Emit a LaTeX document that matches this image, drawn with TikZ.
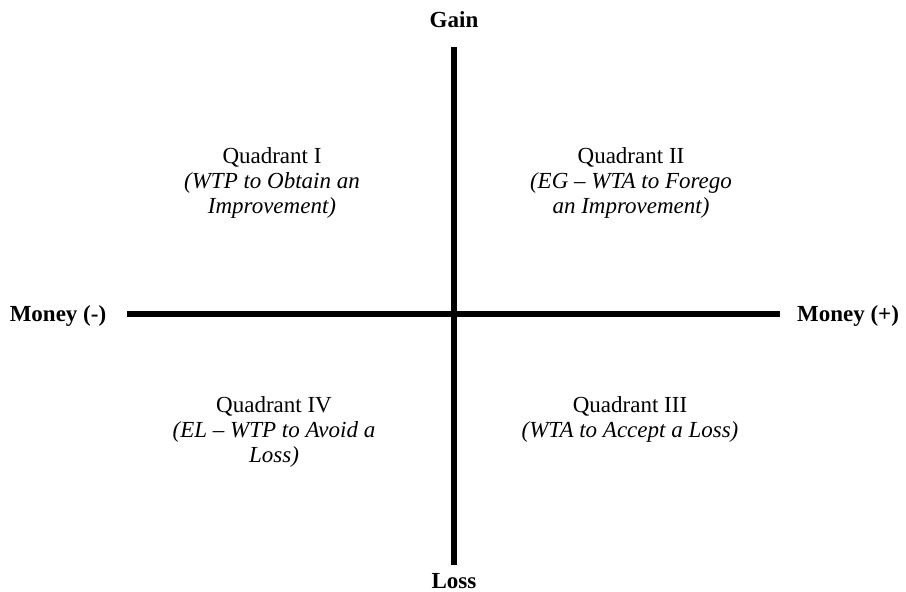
\documentclass[tikz,border=0pt]{standalone}
\usepackage{fontspec}
\setmainfont{Liberation Serif}
\usepackage{tikz}

\begin{document}
\begin{tikzpicture}[x=1pt, y=-1pt,
  axis/.style={line width=5.5pt},
  axlabel/.style={font=\fontsize{23}{25}\selectfont\bfseries, inner sep=0pt, anchor=base},
  qtext/.style={font=\fontsize{23}{25}\selectfont, align=center, inner sep=0pt, anchor=base}]

\useasboundingbox (0,0) rectangle (906,592);

\coordinate (top) at (454,47);
\coordinate (bottom) at (454,565);
\coordinate (left) at (127,314);
\coordinate (right) at (780,314);

\draw [axis] (top) -- (bottom);
\draw [axis] (left) -- (right);

\node (gain) at (454,27) [axlabel] {Gain};
\node (loss) at (454,588) [axlabel] {Loss};
\node (moneyneg) at (58,321) [axlabel] {Money (-)};
\node (moneypos) at (848,321) [axlabel] {Money (+)};

% base anchor sits on the last line
\node (quadI) at (272,213) [qtext] {Quadrant I\\ \textit{(WTP to Obtain an}\\ \textit{Improvement)}};
\node (quadII) at (631,213) [qtext] {Quadrant II\\ \textit{(EG -- WTA to Forego}\\ \textit{an Improvement)}};
\node (quadIV) at (274,462) [qtext] {Quadrant IV\\ \textit{(EL -- WTP to Avoid a}\\ \textit{Loss)}};
\node (quadIII) at (630,437) [qtext] {Quadrant III\\ \textit{(WTA to Accept a Loss)}};

\end{tikzpicture}
\end{document}
